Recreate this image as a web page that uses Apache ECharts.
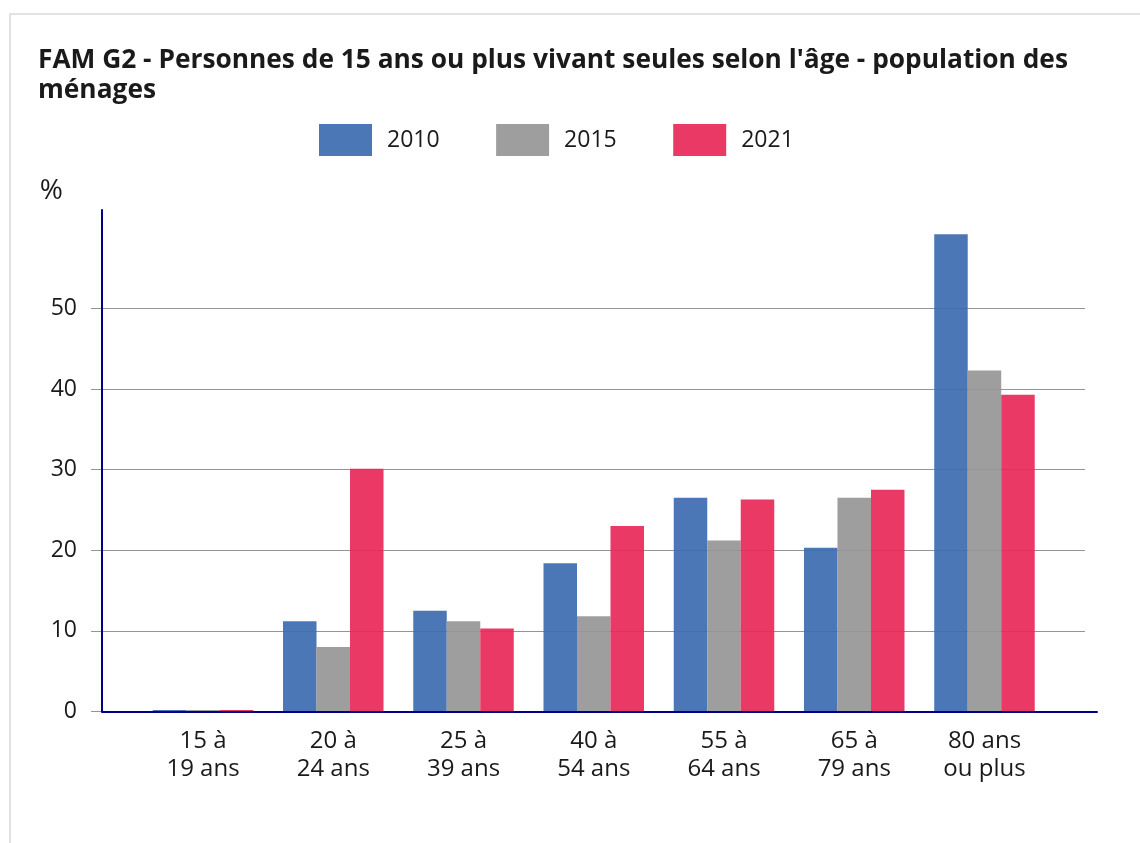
<!DOCTYPE html>
<html>
<head>
<meta charset="utf-8">
<script src="https://cdn.jsdelivr.net/npm/echarts@6/dist/echarts.min.js"></script>
<style>
  body { margin: 0; background: #fff; }
  #frame { position: absolute; left: 9px; top: 13px; width: 1140px; height: 840px;
           border-left: 2px solid #e2e2e2; border-top: 2px solid #e2e2e2; }
  #chart { position: absolute; left: 0; top: 0; width: 1140px; height: 843px; }
</style>
</head>
<body>
<div id="frame"></div>
<div id="chart"></div>
<script>
const categories = ['15 à\n19 ans', '20 à\n24 ans', '25 à\n39 ans', '40 à\n54 ans', '55 à\n64 ans', '65 à\n79 ans', '80 ans\nou plus'];
const years = ['2010', '2015', '2021'];
const values2010 = [0.2, 11.2, 12.5, 18.4, 26.5, 20.3, 59.2];
const values2015 = [0.2, 8.0, 11.2, 11.8, 21.2, 26.5, 42.3];
const values2021 = [0.2, 30.1, 10.3, 23.0, 26.3, 27.5, 39.3];
const colors = ['#3e6db0', '#979797', '#e72a58'];

const yMax = 62.2;
const font = '"Open Sans", "Noto Sans", sans-serif';

const chart = echarts.init(document.getElementById('chart'));

// grid 0 : bars, grid 1 : gridlines + labels, grid 2 : dark axis lines
const gridTop = 210, gridBottom = 131.5;
const gridColor = '#949494';

const option = {
  animation: false,
  textStyle: { fontFamily: font },
  title: {
    text: "FAM G2 - Personnes de 15 ans ou plus vivant seules selon l'âge - population des\nménages",
    left: 33,
    top: 41,
    textStyle: { fontSize: 26.3, fontWeight: 'bold', color: '#1a1a1a', lineHeight: 30, fontFamily: font }
  },
  legend: {
    data: years,
    left: 314,
    top: 119,
    itemWidth: 53,
    itemHeight: 32,
    itemGap: 56.5,
    icon: 'rect',
    textStyle: { fontSize: 23, color: '#1a1a1a', padding: [0, 0, 0, 10], fontFamily: font }
  },
  grid: [
    { left: 137.9, right: 90.4, top: gridTop, bottom: gridBottom },
    { left: 91, right: 55, top: gridTop, bottom: gridBottom },
    { left: 102, right: 43, top: gridTop, bottom: gridBottom }
  ],
  xAxis: [
    {
      gridIndex: 0,
      type: 'category',
      data: categories,
      axisLine: { show: false },
      axisTick: { show: false },
      axisLabel: { fontSize: 24, color: '#1a1a1a', lineHeight: 28, margin: 16, interval: 0 }
    },
    { gridIndex: 1, type: 'value', min: 0, max: 1, show: false },
    {
      gridIndex: 2, type: 'value', min: 0, max: 1, z: 10,
      axisLine: { show: true, lineStyle: { color: '#00008b', width: 2 } },
      axisTick: { show: false }, axisLabel: { show: false }, splitLine: { show: false }
    }
  ],
  yAxis: [
    { gridIndex: 0, type: 'value', min: 0, max: yMax, show: false },
    {
      gridIndex: 1,
      type: 'value',
      min: 0,
      max: yMax,
      interval: 10,
      name: '%',
      nameLocation: 'end',
      nameGap: 5,
      nameTextStyle: { fontSize: 28, color: '#1a1a1a', align: 'right', padding: [0, 28, 0, 0] },
      axisLine: { show: false },
      axisTick: { show: false },
      axisLabel: {
        fontSize: 23, color: '#1a1a1a', margin: 14,
        formatter: function (v) { return v > 50 ? '' : v; }
      },
      splitLine: {
        show: true,
        lineStyle: {
          color: [gridColor, gridColor, gridColor, gridColor, gridColor, gridColor, 'rgba(0,0,0,0)', 'rgba(0,0,0,0)'],
          width: 1
        }
      }
    },
    {
      gridIndex: 2, type: 'value', min: 0, max: 1, z: 10,
      axisLine: { show: true, lineStyle: { color: '#00008b', width: 2 } },
      axisTick: { show: false }, axisLabel: { show: false }, splitLine: { show: false }
    }
  ],
  series: [
    { name: years[0], type: 'bar', data: values2010 },
    { name: years[1], type: 'bar', data: values2015 },
    { name: years[2], type: 'bar', data: values2021 }
  ].map(function (s, i) {
    return Object.assign(s, {
      xAxisIndex: 0,
      yAxisIndex: 0,
      barWidth: 33.5,
      barGap: 0,
      itemStyle: { color: colors[i], opacity: 0.93 }
    });
  })
};

chart.setOption(option);
</script>
</body>
</html>
